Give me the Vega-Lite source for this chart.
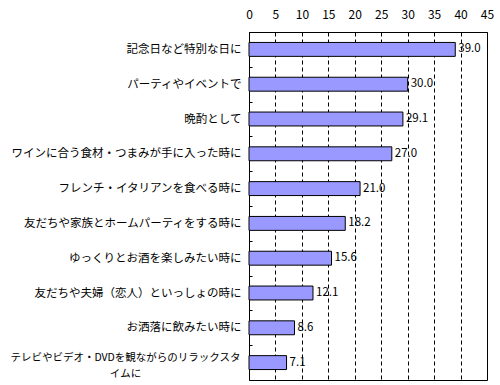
{
  "$schema": "https://vega.github.io/schema/vega-lite/v6.json",
  "width": 238,
  "height": 348,
  "autosize": {"type": "none"},
  "padding": {"left": 249, "top": 32, "right": 13, "bottom": 5},
  "background": "white",
  "config": {
    "view": {"stroke": "black", "strokeWidth": 1},
    "font": "Noto Sans CJK JP"
  },
  "data": {
    "values": [
      {"label": "記念日など特別な日に", "value": 39.0},
      {"label": "パーティやイベントで", "value": 30.0},
      {"label": "晩酌として", "value": 29.1},
      {"label": "ワインに合う食材・つまみが手に入った時に", "value": 27.0},
      {"label": "フレンチ・イタリアンを食べる時に", "value": 21.0},
      {"label": "友だちや家族とホームパーティをする時に", "value": 18.2},
      {"label": "ゆっくりとお酒を楽しみたい時に", "value": 15.6},
      {"label": "友だちや夫婦（恋人）といっしょの時に", "value": 12.1},
      {"label": "お洒落に飲みたい時に", "value": 8.6},
      {"label": "テレビやビデオ・DVDを観ながらのリラックスタイムに", "value": 7.1}
    ]
  },
  "encoding": {
    "y": {
      "field": "label",
      "type": "nominal",
      "sort": null,
      "scale": {"paddingInner": 0, "paddingOuter": 0},
      "axis": {
        "title": null,
        "domain": false,
        "tickBand": "extent",
        "tickSize": -3,
        "tickColor": "black",
        "labelColor": "black",
        "labelLimit": 400,
        "labelPadding": {"condition": {"test": "length(datum.label) > 22", "value": 127}, "value": 11},
        "labelAlign": {"condition": {"test": "length(datum.label) > 22", "value": "center"}, "value": "right"},
        "labelOffset": {"condition": {"test": "length(datum.label) > 22", "value": -5}, "value": 0},
        "labelFontSize": {"condition": {"test": "length(datum.label) > 22", "value": 10.5}, "value": 11.5},
        "labelExpr": "length(datum.label) > 22 ? [substring(datum.label, 0, 23), substring(datum.label, 23)] : datum.label",
        "labelLineHeight": 16
      }
    },
    "x": {
      "field": "value",
      "type": "quantitative",
      "scale": {"domain": [0, 45], "nice": false},
      "axis": {
        "orient": "top",
        "title": null,
        "values": [0, 5, 10, 15, 20, 25, 30, 35, 40, 45],
        "domain": false,
        "ticks": false,
        "labelPadding": 11,
        "labelFontSize": 12,
        "labelColor": "black",
        "labelFlush": false,
        "grid": true,
        "gridColor": "black",
        "gridDash": [4, 3],
        "gridOpacity": 1
      }
    }
  },
  "layer": [
    {
      "mark": {"type": "bar", "fill": "#9999FF", "stroke": "black", "strokeWidth": 1, "height": {"band": 0.4}}
    },
    {
      "mark": {"type": "text", "align": "left", "baseline": "middle", "dx": 3, "fontSize": 11.5, "color": "black"},
      "encoding": {"text": {"field": "value", "type": "quantitative", "format": ".1f"}}
    }
  ]
}
